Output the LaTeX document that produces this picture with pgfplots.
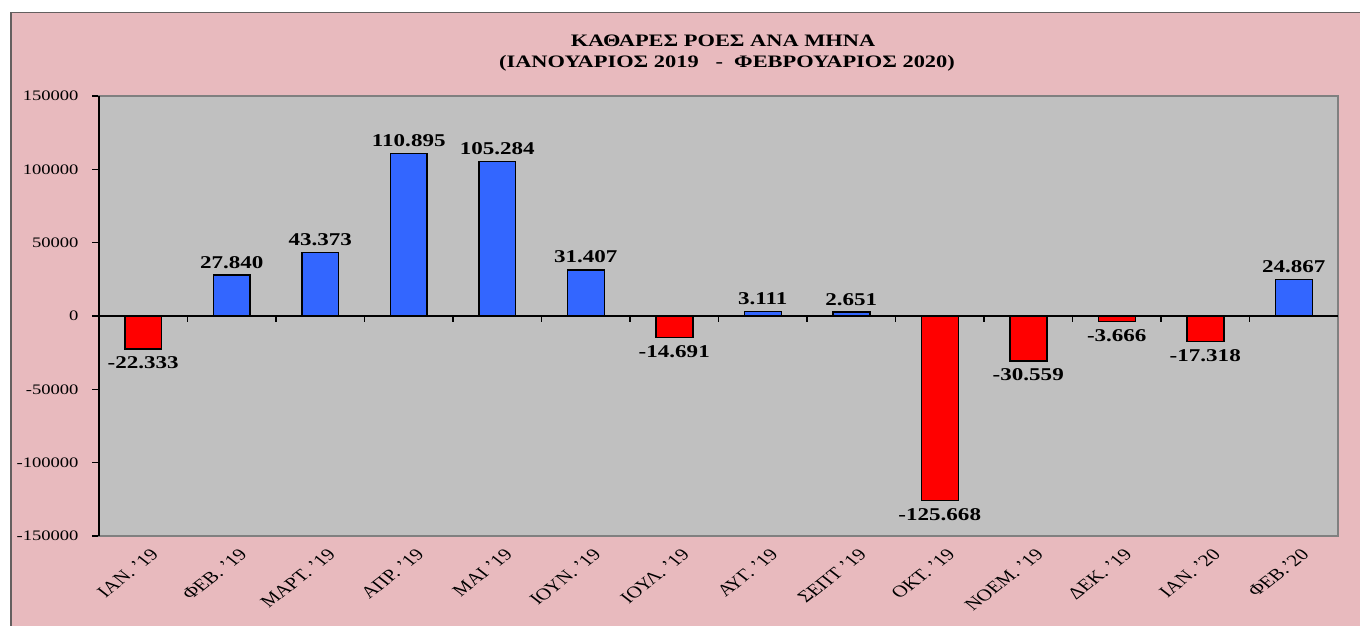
\documentclass[border=0pt]{standalone}
\usepackage{pgfplots}
\pgfplotsset{compat=1.18}
\usepackage{fontspec}
\setmainfont{Liberation Serif}
\definecolor{bgpink}{RGB}{232,186,190}
\definecolor{plotgray}{RGB}{192,192,192}
\definecolor{barblue}{RGB}{51,102,255}
\definecolor{barred}{RGB}{255,0,0}
\definecolor{framegray}{RGB}{100,95,95}
\definecolor{bordergray}{RGB}{128,128,128}
\begin{document}
\begin{tikzpicture}[x=1pt,y=1pt]
\useasboundingbox (0,0) rectangle (1360,626);
\fill[white] (0,0) rectangle (1360,626);
\fill[bgpink] (10,0) rectangle (1360,614);
\draw[framegray, line width=1.5pt] (10.75,0) -- (10.75,613.25) -- (1360,613.25);
\node[anchor=base, xscale=1.28, font=\bfseries\fontsize{17.5}{20}\selectfont, inner sep=0pt] at (723,579) {ΚΑΘΑΡΕΣ ΡΟΕΣ ΑΝΑ ΜΗΝΑ};
\node[anchor=base, xscale=1.28, font=\bfseries\fontsize{17.5}{20}\selectfont, inner sep=0pt] at (727,558) {(ΙΑΝΟΥΑΡΙΟΣ 2019\ \ \ -\ \ ΦΕΒΡΟΥΑΡΙΟΣ 2020)};
\begin{axis}[
  at={(99pt,90pt)}, anchor=south west, scale only axis,
  width=1239pt, height=440pt,
  xmin=-0.5, xmax=13.5, ymin=-150000, ymax=150000,
  axis background/.style={fill=plotgray},
  axis line style={draw=bordergray, line width=1.5pt},
  ybar, bar width=0.418,
  xtick={0,...,13},
  xticklabels={ΙΑΝ. '19, ΦΕΒ. '19, ΜΑΡΤ. '19, ΑΠΡ. '19, ΜΑΙ '19, ΙΟΥΝ. '19, ΙΟΥΛ. '19, ΑΥΓ. '19, ΣΕΠΤ '19, ΟΚΤ. '19, ΝΟΕΜ. '19, ΔΕΚ. '19, ΙΑΝ. '20, ΦΕΒ.'20},
  x tick style={draw=none},
  xticklabel style={xscale=1.28, rotate=45, anchor=north east, font=\fontsize{16.5}{18}\selectfont, inner sep=0pt, yshift=-7pt, xshift=0pt},
  ytick={-150000,-100000,-50000,0,50000,100000,150000},
  scaled y ticks=false,
  ytick pos=left, tick align=outside, major tick length=7pt,
  y tick style={black, line width=1.2pt},
  yticklabel style={xscale=1.28, font=\fontsize{14.5}{16}\selectfont, xshift=-7pt, /pgf/number format/fixed, /pgf/number format/precision=0, /pgf/number format/1000 sep={}, /pgf/number format/assume math mode=true},
  clip=false,
  point meta=explicit symbolic,
  nodes near coords,
  nodes near coords style={xscale=1.28, font=\bfseries\fontsize{18}{20}\selectfont, text=black, inner sep=4pt},
]
\addplot[fill=barblue, draw=black, line width=1.5pt, bar shift=0pt, nodes near coords style={anchor=south, yshift=2pt}] coordinates {
  (1,27840) [27.840]
  (2,43373) [43.373]
  (3,110895) [110.895]
  (4,105284) [105.284]
  (5,31407) [31.407]
  (7,3111) [3.111]
  (8,2651) [2.651]
  (13,24867) [24.867]
};
\addplot[fill=barred, draw=black, line width=1.5pt, bar shift=0pt, nodes near coords style={anchor=north, yshift=-3pt}] coordinates {
  (0,-22333) [-22.333]
  (6,-14691) [-14.691]
  (9,-125668) [-125.668]
  (10,-30559) [-30.559]
  (11,-3666) [-3.666]
  (12,-17318) [-17.318]
};
\draw[black, line width=1.5pt] (axis cs:-0.5,0) -- (axis cs:13.5,0);
\pgfplotsinvokeforeach{0.5,1.5,...,12.5}{\draw[black, line width=1.2pt] (axis cs:#1,0) -- ++(0pt,-6pt);}
\draw[black, line width=1.5pt] (rel axis cs:0,0) -- (rel axis cs:0,1);
\end{axis}
\end{tikzpicture}
\end{document}
